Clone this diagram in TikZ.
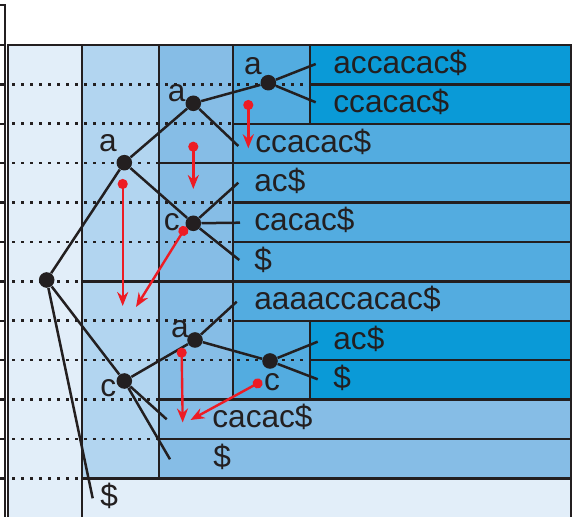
\documentclass[tikz,border=0pt]{standalone}
\usepackage{fontspec}
\setmainfont{Liberation Sans}
\usepackage{tikz}
\usetikzlibrary{arrows.meta}
\definecolor{lvlA}{HTML}{E2EEF9}
\definecolor{lvlB}{HTML}{B2D5F0}
\definecolor{lvlC}{HTML}{86BDE6}
\definecolor{lvlD}{HTML}{53ACE0}
\definecolor{lvlE}{HTML}{0A9AD7}
\definecolor{linkred}{HTML}{ED1C24}
\definecolor{ink}{HTML}{231F20}

\begin{document}
\begin{tikzpicture}[
  x=0.5pt,y=-0.5pt,
  rule/.style={draw=ink, line width=1.25pt},
  dots/.style={draw=ink, line width=1.3pt, dash pattern=on 1.4pt off 3.1pt},
  edge/.style={draw=ink, line width=1.25pt},
  knot/.style={circle, fill=ink, inner sep=0pt, minimum size=7.8pt},
  lbl/.style={font=\fontsize{15.8}{19}\selectfont, text=ink, inner sep=0pt, anchor=base},
  leaf/.style={font=\fontsize{15.8}{19}\selectfont, text=ink, inner sep=0pt, anchor=base west},
  link/.style={draw=linkred, line width=1.2pt, {Circle[length=5pt]}-{Stealth[length=7pt,width=5.5pt]}}]
\useasboundingbox (0,0) rectangle (573,517);
\fill[lvlA] (8,45) rectangle (571,517);
\fill[lvlB] (82,45) rectangle (159,478.4);
\fill[lvlC] (159,45) rectangle (233,399.6);
\fill[lvlC] (159,399.6) rectangle (571,478.4);
\fill[lvlD] (233,45) rectangle (310,399.6);
\fill[lvlD] (233,123.8) rectangle (571,320.8);
\fill[lvlE] (310,45) rectangle (571,123.8);
\fill[lvlE] (310,320.8) rectangle (571,399.6);
\foreach \k/\d in {1/310,2/233,3/159,4/233,5/233,6/82,7/233,8/310,9/159,10/159,11/82}{
  \draw[dots] (12,{45+39.4*\k}) -- (\d,{45+39.4*\k});
  \draw[rule] (\d,{45+39.4*\k}) -- (571,{45+39.4*\k});
}
\foreach \k in {0,...,11}
  \draw[rule] (0,{45+39.4*\k}) -- (4,{45+39.4*\k});
\draw[rule] (5,517) -- (5,5) -- (0,5);
\draw[rule] (8,517) -- (8,45) -- (571,45) -- (571,517);
\draw[rule] (82,45) -- (82,517);
\draw[rule] (159,45) -- (159,478.4);
\draw[rule] (233,45) -- (233,399.6);
\draw[rule] (310,45) -- (310,123.8) (310,320.8) -- (310,399.6);

\foreach \i/\x/\t in {0/333/{accacac\$},1/333/{ccacac\$},2/255/{ccacac\$},3/254/{ac\$},4/254/{cacac\$},5/254/{\$},
  6/254/{aaaaccacac\$},7/333/{ac\$},8/333/{\$},9/212/{cacac\$},10/213/{\$},11/100/{\$}}
  \node[leaf] (row\i) at (\x,{73.3+39.4*\i}) {\t};

\node[knot] (root) at (46.7,280) {};
\node[knot] (na) at (124.3,162.7) {};
\node[knot] (naa) at (193.3,103.3) {};
\node[knot] (naaa) at (268.3,82.7) {};
\node[knot] (nac) at (193.3,223.3) {};
\node[knot] (nc) at (124.3,381) {};
\node[knot] (nca) at (195,340) {};
\node[knot] (ncac) at (270,361) {};
\node[lbl] (lna) at (108,152) {a};
\node[lbl] (lnaa) at (176.7,101.5) {a};
\node[lbl] (lnaaa) at (253,75) {a};
\node[lbl] (lnac) at (171.7,230.5) {c};
\node[lbl] (lnc) at (108.3,397) {c};
\node[lbl] (lnca) at (180,338) {a};
\node[lbl] (lncac) at (272,391) {c};

\coordinate (e0) at (315.7,64);
\coordinate (e1) at (315.7,102.3);
\coordinate (e2) at (238.3,146);
\coordinate (e3) at (238.3,182.7);
\coordinate (e4) at (240,222.7);
\coordinate (e5) at (239.3,260);
\coordinate (e6) at (236.7,301.7);
\coordinate (e7) at (317.7,341.7);
\coordinate (e8) at (317.7,379.3);
\coordinate (e9) at (166.7,419.3);
\coordinate (e10) at (170,459.3);
\coordinate (e11) at (92.7,498.3);
\draw[edge] (root) -- (na) (root) -- (nc) (root) -- (e11);
\draw[edge] (na) -- (naa) (na) -- (nac);
\draw[edge] (naa) -- (naaa) (naa) -- (e2);
\draw[edge] (naaa) -- (e0) (naaa) -- (e1);
\draw[edge] (nac) -- (e3) (nac) -- (e4) (nac) -- (e5);
\draw[edge] (nc) -- (nca) (nc) -- (e9) (nc) -- (e10);
\draw[edge] (nca) -- (e6) (nca) -- (ncac);
\draw[edge] (ncac) -- (e7) (ncac) -- (e8);

\coordinate (s1) at (248.3,100);
\coordinate (t1) at (248.3,148.3);
\coordinate (s2) at (193.3,141.7);
\coordinate (t2) at (193.3,189);
\coordinate (s3) at (122.7,179);
\coordinate (t3) at (122.7,306);
\coordinate (s4) at (186,226.7);
\coordinate (t4) at (136,307);
\coordinate (s5) at (181.6,347.7);
\coordinate (t5) at (182.7,422.5);
\coordinate (s6) at (262,381);
\coordinate (t6) at (190.5,420);
\foreach \i in {1,...,6}
  \draw[link] (s\i) -- (t\i);
\end{tikzpicture}
\end{document}
